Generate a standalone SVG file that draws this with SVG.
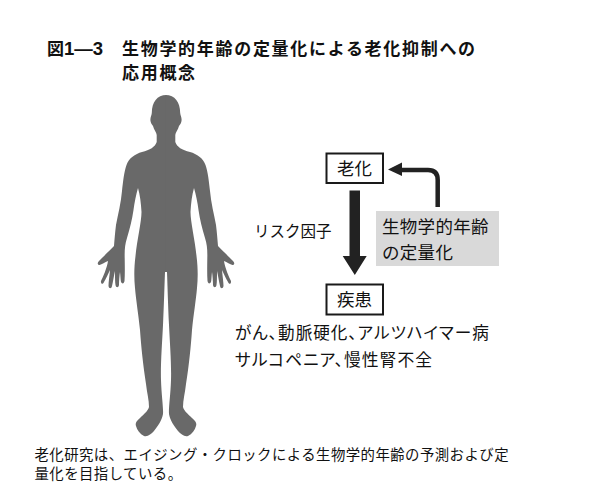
<svg xmlns="http://www.w3.org/2000/svg" width="600" height="500" viewBox="0 0 600 500">
<style>
text{font-family:"Noto Sans CJK JP","Noto Sans",sans-serif;fill:#111}
.t{font-size:17px;font-weight:700;letter-spacing:1.7px}
.n{font-size:17.500px}
.c{font-size:14.400px;letter-spacing:.45px}
.b{fill:#fff;stroke:#1a1a1a;stroke-width:2}
.body{fill:#696969}
.p{font-feature-settings:"palt";letter-spacing:1px}
</style>
<defs>
<path id="half" class="body" d="M166.500 95C157 95 152 102 151.800 113C151.500 116 150 117 150.500 121C151 124 152.500 125 153 126C154 130 156.500 132 156.700 135L156.700 142C155 147 150 150 142 152C135 154 129 158 126.500 165C124 172 123 182 122 191C121 203 118 214 116 225C115 233 114.500 240 114 246C110 250 103 257 99 261C97 263 97.500 265 99.500 265C102 264.500 105 262 108 261C107 268 103 277 101 281C100.500 284 103 285 104 282C106 279 108.500 273 110 270C109.500 276 108.500 282 108.500 286C109 289 111.500 289 112 286C113 282 114 275 115 271C115 277 115 282 115.500 285C116 288 118.500 288 119 285C119 281 119.500 275 120 272C120.500 276 120.500 280 121 282C122 284 124 284 124.500 281C125 274 124.800 266 124.700 258C124.500 250 125 244 127 238C130 228 132 220 133.500 210C134.500 202 136 195 138 188C140 195 141 203 141.500 212C141.500 222 137 240 135.500 256C134 268 134 278 135 288C136 300 138.500 315 140 330C141 345 143 365 146 384C147 393 149 400 149 407C148 411 144 414 140 418C136.500 421 135 423 136 426C137 430 140 434 144 436C148 437 151 434 154 431C158 426 162 420 163 414C163.500 408 161.500 395 161 380C160.500 365 162 345 163 325C164 305 164.500 285 165 272L166.500 272Z"/>
</defs>
<g id="figure">
<use href="#half"/>
<use href="#half" transform="matrix(-1 0 0 1 332 0)"/>
</g>
<g id="title">
<text class="t" x="47" y="54.500" style="letter-spacing:0">図<tspan font-family="Liberation Sans" font-size="18.500">1—3</tspan></text>
<text class="t" x="122" y="54.500">生物学的年齢の定量化による老化抑制への</text>
<text class="t" x="122" y="78.500">応用概念</text>
</g>
<g id="connectors">
<polygon points="349.500,190.500 360,190.500 360,256 366.700,256 354.800,275 342.700,256 349.500,256" fill="#222"/>
<path d="M437.700 207V180Q437.700 170 428 170H400" fill="none" stroke="#222" stroke-width="4.500"/>
<polygon points="388,169.500 402,162.500 402,176" fill="#222"/>
</g>
<g id="node-aging">
<rect class="b" x="326.500" y="153.500" width="56.500" height="29.500"/>
<text class="n" x="337" y="174.500">老化</text>
</g>
<g id="node-disease">
<rect class="b" x="326.500" y="284.500" width="56.500" height="30"/>
<text class="n" x="337" y="305.500">疾患</text>
</g>
<g id="node-biological-age">
<rect x="376" y="211" width="123" height="55" fill="#d9d9d9"/>
<text class="n" x="382" y="232.500" style="letter-spacing:.3px">生物学的年齢</text>
<text class="n" x="382" y="258.500" style="letter-spacing:.3px">の定量化</text>
</g>
<g id="labels">
<text x="254" y="237" style="font-size:15.500px">リスク因子</text>
<text class="p" x="235" y="339" style="font-size:16.600px">がん、動脈硬化、アルツハイマー病</text>
<text class="p" x="235" y="366" style="font-size:16.800px">サルコペニア、慢性腎不全</text>
</g>
<g id="caption">
<text class="c" x="34.500" y="459.500">老化研究は、エイジング・クロックによる生物学的年齢の予測および定</text>
<text class="c" x="34.500" y="478.500">量化を目指している。</text>
</g>
</svg>
